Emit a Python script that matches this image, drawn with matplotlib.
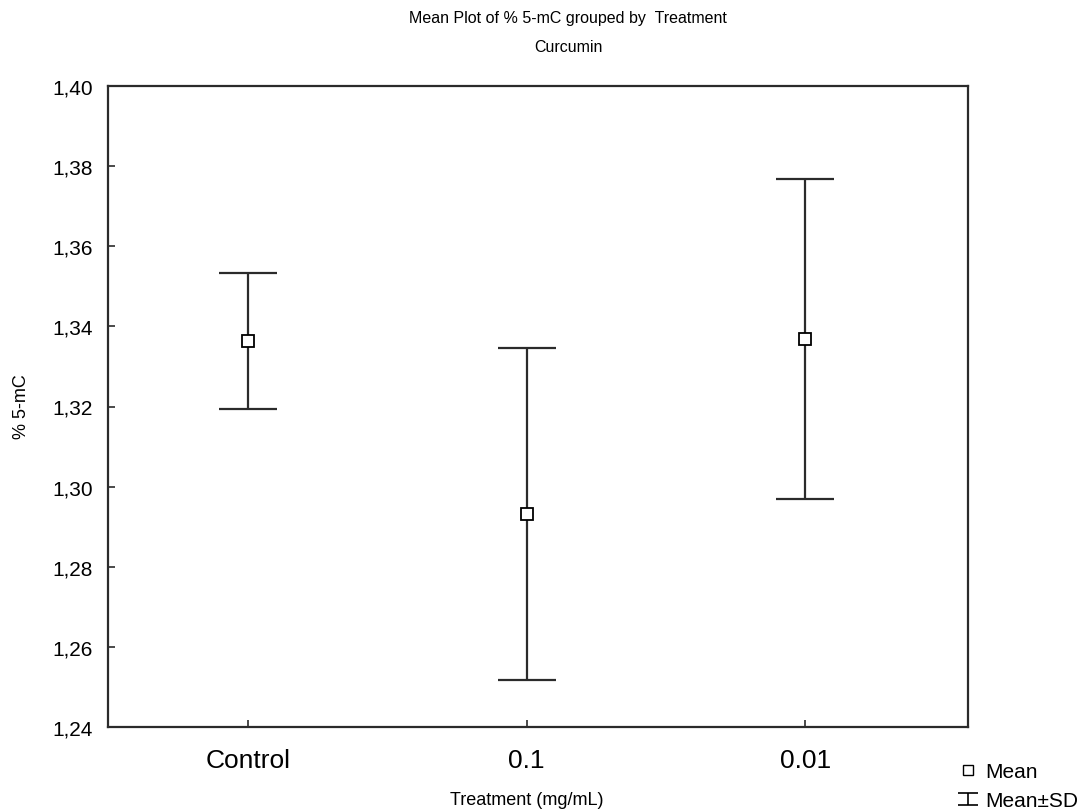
"""Mean plot of % 5-mC grouped by curcumin treatment."""

import matplotlib

matplotlib.use("Agg")
import matplotlib.pyplot as plt
import numpy as np
from matplotlib.lines import Line2D
from matplotlib.path import Path
from matplotlib.ticker import FuncFormatter, MultipleLocator

TREATMENTS = ["Control", "0.1", "0.01"]
MEANS = [1.3364, 1.2932, 1.3368]
SDS = [0.0169, 0.0415, 0.0400]

LINE_COLOR = "#2b2b2b"


def comma_fmt(v, _pos):
    return f"{v:.2f}".replace(".", ",")


def main() -> None:
    plt.rcParams["font.family"] = ["Liberation Sans", "DejaVu Sans"]

    fig = plt.figure(figsize=(10.88, 8.12), dpi=100)
    ax = fig.add_axes([108 / 1088, 84 / 812, 860 / 1088, 641 / 812])

    x = np.arange(len(TREATMENTS))
    ax.errorbar(x, MEANS, yerr=SDS, fmt="none", ecolor=LINE_COLOR,
                elinewidth=1.6, capsize=21, capthick=1.6)
    ax.plot(x, MEANS, linestyle="none", marker="s", markersize=8,
            markerfacecolor="white", markeredgecolor="black", markeredgewidth=1.3)

    ax.set_xlim(-0.503, 2.585)
    ax.set_ylim(1.24, 1.40)
    ax.yaxis.set_major_locator(MultipleLocator(0.02))
    ax.yaxis.set_major_formatter(FuncFormatter(comma_fmt))
    ax.set_xticks(x)
    ax.set_xticklabels(TREATMENTS, fontsize=19)
    ax.tick_params(direction="in", length=5, width=1.2, color=LINE_COLOR)
    ax.tick_params(axis="y", labelsize=15, pad=11)
    ax.tick_params(axis="x", pad=15)
    for sp in ax.spines.values():
        sp.set_color(LINE_COLOR)
        sp.set_linewidth(1.6)

    fig.text(22 / 1088, 1 - 407 / 812, "% 5-mC", rotation=90, ha="center",
             va="center", fontsize=13)
    fig.text(527 / 1088, 1 - 801 / 812, "Treatment (mg/mL)", ha="center",
             va="center", fontsize=13)
    fig.text(568 / 1088, 1 - 18 / 812, "Mean Plot of % 5-mC grouped by  Treatment",
             ha="center", va="center", fontsize=11.5)
    fig.text(568 / 1088, 1 - 48 / 812, "Curcumin", ha="center", va="center",
             fontsize=11.5)

    ibeam = Path([(-1, -0.55), (1, -0.55), (0, -0.55), (0, 0.55),
                  (-1, 0.55), (1, 0.55)],
                 [Path.MOVETO, Path.LINETO, Path.MOVETO, Path.LINETO,
                  Path.MOVETO, Path.LINETO])
    handles = [
        Line2D([], [], linestyle="none", marker="s", markersize=7,
               markerfacecolor="white", markeredgecolor="black"),
        Line2D([], [], linestyle="none", marker=ibeam, markersize=15,
               markeredgecolor="black", markeredgewidth=1.2),
    ]
    fig.legend(handles, ["Mean", "Mean±SD"], loc="upper left",
               bbox_to_anchor=(947 / 1088, 1 - 753 / 812), frameon=False,
               fontsize=15, handlelength=1.0, handletextpad=0.35,
               labelspacing=0.45, borderpad=0)

    fig.savefig("out.png", dpi=100)


if __name__ == "__main__":
    main()
